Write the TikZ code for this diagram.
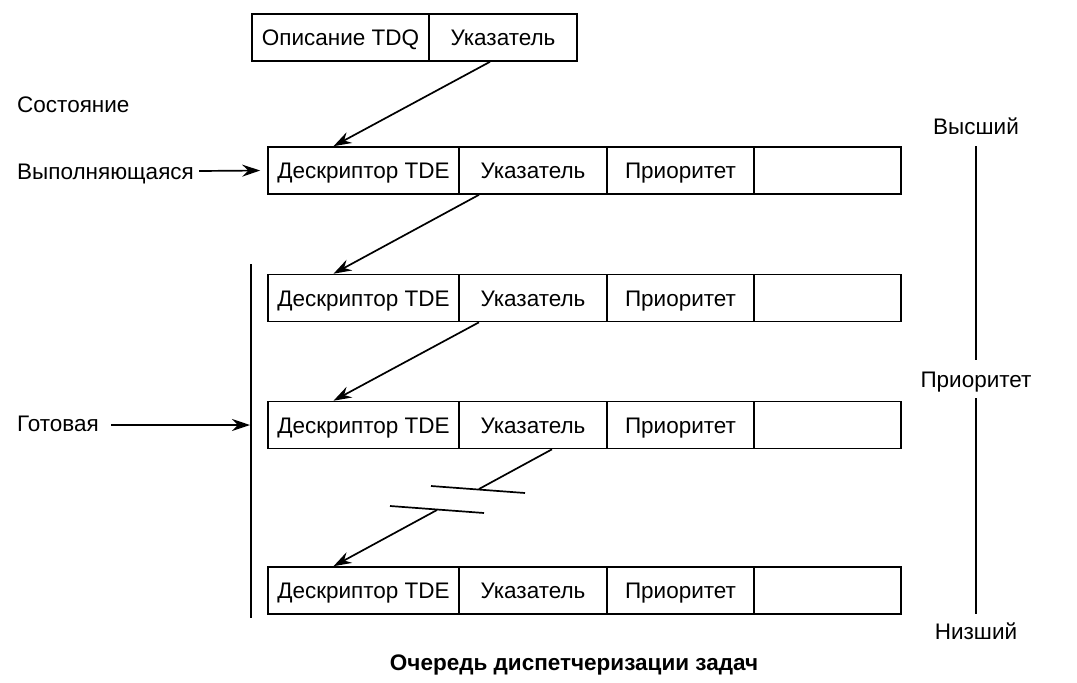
\documentclass[tikz,border=0pt]{standalone}
\usepackage{fontspec}
\setmainfont{Liberation Sans}
\usetikzlibrary{arrows.meta,calc}
\tikzset{
  cell/.style={draw, line width=1.6pt, inner sep=0pt, minimum height=47pt, text height=16pt, text depth=0pt, font=\fontsize{22.5}{27}\selectfont},
  lbl/.style={inner sep=1pt, text height=16pt, text depth=0pt, font=\fontsize{22.5}{27}\selectfont},
  ln/.style={line width=1.7pt},
  arr/.style={line width=1.7pt, -{Stealth[length=18pt,width=12pt,inset=6pt]}},
}
\begin{document}
\begin{tikzpicture}[x=1pt,y=-1pt]
\useasboundingbox (0,0) rectangle (1077,683);
% top TDQ box
\node[cell, minimum width=177pt] (tdq) at (340.5,37.5) {Описание TDQ};
\node[cell, minimum width=148pt] (tptr) at (503,37.5) {Указатель};
% rows
\foreach \i/\y in {1/170.5, 2/298, 3/425, 4/590.5}{
  \node[cell, minimum width=191pt] (d\i) at (363.5,\y) {Дескриптор TDE};
  \node[cell, minimum width=148pt] (p\i) at (533,\y) {Указатель};
  \node[cell, minimum width=147pt] (r\i) at (680.5,\y) {Приоритет};
  \node[cell, minimum width=147pt] (e\i) at (827.5,\y) {};
}
% pointer arrows
\draw[arr] ($(tptr.south)+(-13,0)$) -- ($(d1.north)+(-30,0)$);
\draw[arr] ($(p1.south)+(-54,0)$) -- ($(d2.north)+(-30,0)$);
\draw[arr] ($(p2.south)+(-54,0)$) -- ($(d3.north)+(-30,0)$);
% broken arrow
\coordinate (b1) at (479,489);
\coordinate (b2) at (437,510);
\draw[ln] ($(p3.south)+(19,0)$) -- (b1);
\draw[arr] (b2) -- ($(d4.north)+(-30,0)$);
\draw[ln] (431,486) -- (525,493);
\draw[ln] (390,506) -- (484,513);
% left labels
\node[lbl, anchor=west] (sost) at (16,104) {Состояние};
\node[lbl, anchor=west] (vyp) at (16,171) {Выполняющаяся};
\node[lbl, anchor=west] (got) at (16,423) {Готовая};
\coordinate (bt) at (251,264);
\coordinate (bb) at (251,618);
\draw[ln] (bt) -- (bb);
\draw[arr] ($(vyp.east)+(4,0)$) -- ($(d1.west)+(-7,0)$);
\draw[arr] ($(got.east)+(11,2)$) -- ($(got.east -| bt)+(-1,2)$);
% priority scale
\node[lbl] (hi) at (976,126) {Высший};
\node[lbl] (mid) at (976,379) {Приоритет};
\node[lbl] (lo) at (976,631) {Низший};
\draw[ln] (976,146) -- (976,360);
\draw[ln] (976,398) -- (976,614);
% caption
\node[inner sep=0pt, text height=16pt, text depth=0pt, font=\fontsize{22.5}{27}\selectfont\bfseries] (cap) at (574,662) {Очередь диспетчеризации задач};
\end{tikzpicture}
\end{document}
